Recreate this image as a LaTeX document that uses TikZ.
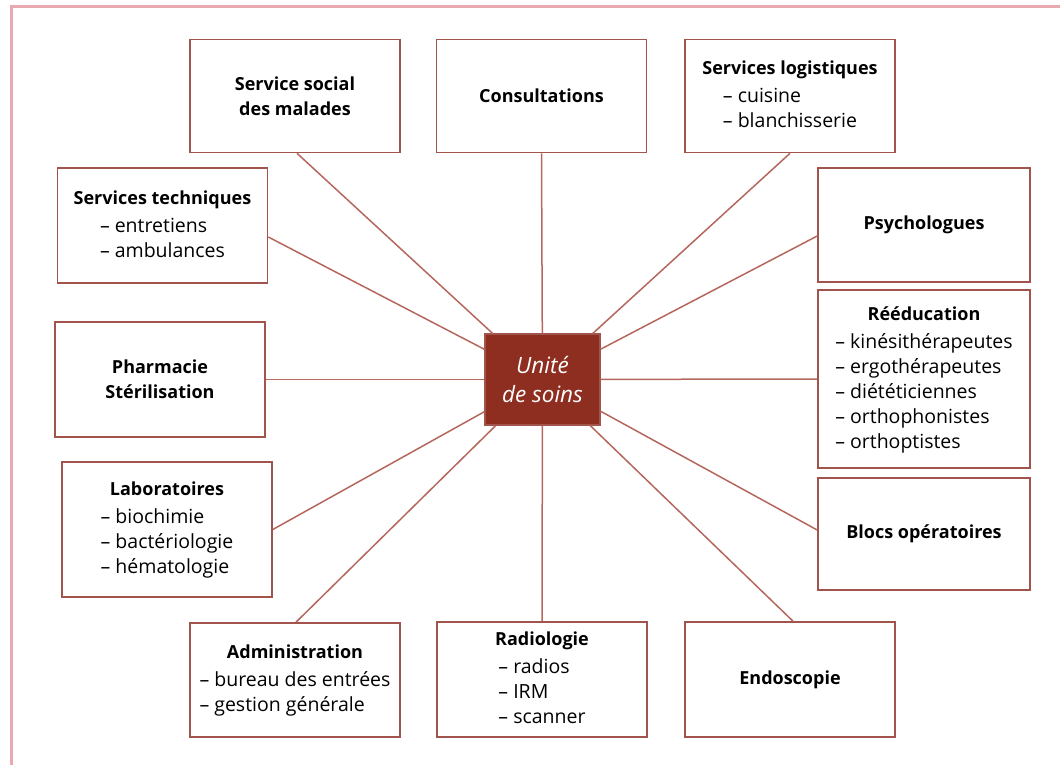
\documentclass[tikz,border=0pt]{standalone}
\usepackage{fontspec}
\setmainfont{Open Sans}
\usepackage{xcolor}
\definecolor{framepink}{HTML}{EAA9B1}
\definecolor{boxline}{HTML}{A0544B}
\definecolor{spoke}{HTML}{B5675D}
\definecolor{hubfill}{HTML}{8E2E20}
\newcommand{\boxhead}{\fontsize{18}{25}\selectfont\bfseries}
\newcommand{\boxtext}[2]{\begin{tabular}{@{}c@{}}{\boxhead #1}\\[3pt]\begin{tabular}{@{}l@{}}#2\end{tabular}\end{tabular}}

\begin{document}
\begin{tikzpicture}[x=1pt,y=-1pt,
  every node/.style={font=\fontsize{19.5}{25}\selectfont},
  unitbox/.style={draw=boxline,line width=1.6pt,fill=white,minimum width=210pt,minimum height=113pt,inner sep=2pt,align=center},
  link/.style={draw=spoke,line width=1.5pt}]
\useasboundingbox (0,0) rectangle (1060,765);
\draw[framepink,line width=3pt] (11,765) -- (11,7) -- (1060,7);

% centre
\node[fill=hubfill,draw=boxline,line width=1.2pt,minimum width=115pt,minimum height=91pt,text=white,align=center,font=\fontsize{22.5}{29}\selectfont\itshape] (hub) at (542.5,379.5) {Unité\\de soins};

% boxes, top row
\node[unitbox,font=\boxhead] (social) at (295,96) {Service social\\des malades};
\node[unitbox,font=\boxhead] (consult) at (541.5,96) {Consultations};
\node[unitbox] (logis) at (790,96) {\boxtext{Services logistiques}{– cuisine\\– blanchisserie}};
% left column
\node[unitbox,minimum height=115pt] (techn) at (162.5,225.5) {\boxtext{Services techniques}{– entretiens\\– ambulances}};
\node[unitbox,minimum height=115pt,font=\boxhead] (pharma) at (160,379.5) {Pharmacie\\Stérilisation};
\node[unitbox,minimum height=135pt] (labo) at (167,529.5) {\boxtext{Laboratoires}{– biochimie\\– bactériologie\\– hématologie}};
% right column
\node[unitbox,minimum width=212pt,minimum height=114pt,font=\boxhead] (psycho) at (924,225) {Psychologues};
\node[unitbox,minimum width=212pt,minimum height=178pt] (reedu) at (924,379) {\boxtext{Rééducation}{– kinésithérapeutes\\– ergothérapeutes\\– diététiciennes\\– orthophonistes\\– orthoptistes}};
\node[unitbox,minimum width=212pt,minimum height=112pt,font=\boxhead] (blocs) at (924,534) {Blocs opératoires};
% bottom row
\node[unitbox,minimum height=114pt] (admin) at (295,680) {\boxtext{Administration}{– bureau des entrées\\– gestion générale}};
\node[unitbox,minimum height=115pt] (radio) at (542,679.5) {\boxtext{Radiologie}{– radios\\– IRM\\– scanner}};
\node[unitbox,minimum height=115pt,font=\boxhead] (endo) at (790,679.5) {Endoscopie};

% spokes
\draw[link] (hub) -- ([xshift=2pt]social.south);
\draw[link] (hub) -- (consult.south);
\draw[link] (hub) -- (logis.south);
\draw[link] (hub) -- ([yshift=-11.5pt]techn.east);
\draw[link] (hub) -- (pharma.east);
\draw[link] (hub) -- (labo.east);
\draw[link] (hub) -- ([yshift=-11pt]psycho.west);
\draw[link] (hub) -- (reedu.west);
\draw[link] (hub) -- ([yshift=4pt]blocs.west);
\draw[link] (hub) -- ([xshift=1pt]admin.north);
\draw[link] (hub) -- (radio.north);
\draw[link] (hub) -- ([xshift=3pt]endo.north);
\end{tikzpicture}
\end{document}
